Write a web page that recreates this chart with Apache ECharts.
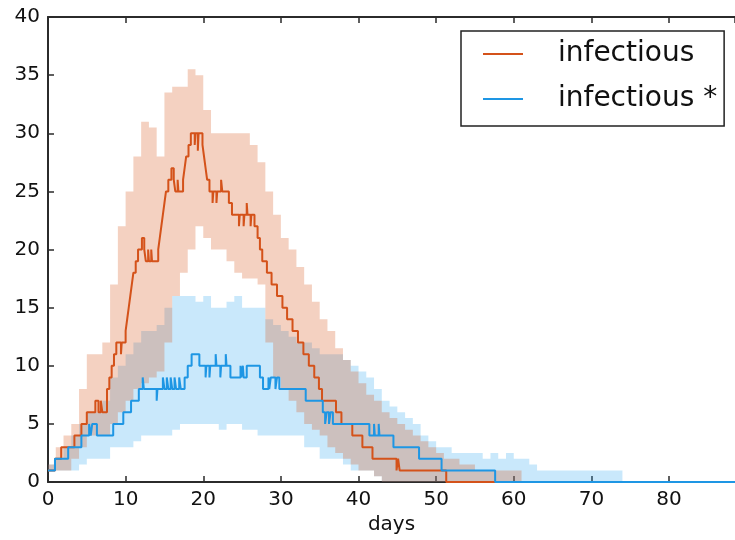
<!DOCTYPE html>
<html><head><meta charset="utf-8">
<script src="https://cdn.jsdelivr.net/npm/echarts@6/dist/echarts.min.js"></script>
<style>html,body{margin:0;padding:0;background:#fff}#c{width:735px;height:540px}</style>
</head><body><div id="c"></div>
<script>
// ---- data ----
const seriesNames = ['infectious', 'infectious *'];
const xTickValues = [0, 10, 20, 30, 40, 50, 60, 70, 80];
const yTickValues = [0, 5, 10, 15, 20, 25, 30, 35, 40];

// median step curves: [day, value] (value holds from that day on)
const redMedian = [[0,1],[0.9,2],[1.7,3],[3.4,4],[4.3,5],[5.0,6],[6.1,7],[6.5,6],[6.8,7],[7.0,6],[7.6,8],[7.9,9],[8.2,10],[8.5,11],[8.8,12],[9.4,11],[9.5,12],[10.0,13],[10.2,14],[10.4,15],[10.6,16],[10.8,17],[11.0,18],[11.3,19],[11.6,20],[12.1,21],[12.4,20],[12.6,19],[12.9,20],[13.0,19],[13.3,20],[13.4,19],[14.2,20],[14.4,21],[14.6,22],[14.8,23],[15.0,24],[15.2,25],[15.5,26],[15.9,27],[16.2,26],[16.4,25],[16.7,26],[16.8,25],[17.4,26],[17.6,27],[17.8,28],[18.1,29],[18.4,30],[18.9,29],[19.0,30],[19.3,28.5],[19.4,30],[19.9,29],[20.1,28],[20.3,27],[20.5,26],[20.8,25],[21.2,24],[21.3,25],[21.7,24],[21.8,25],[22.3,26],[22.45,25],[23.3,24],[23.7,23],[24.6,22],[24.7,23],[25.2,22],[25.3,23],[25.6,24],[25.7,23],[26.1,22],[26.2,23],[26.6,22],[27.0,21],[27.3,20],[27.6,19],[28.2,18],[28.8,17],[29.5,16],[30.2,15],[30.8,14],[31.5,13],[32.2,12],[32.9,11],[33.6,10],[34.3,9],[34.9,8],[35.3,7],[37.1,6],[37.8,5],[39.2,4],[40.5,3],[41.8,2],[44.9,1],[45.1,2],[45.3,1],[51.3,0],[88.5,0]];
const blueMedian = [[0,1],[0.9,2],[2.6,3],[4.3,4],[5.3,5],[5.5,4],[5.7,5],[6.3,4],[8.4,5],[9.7,6],[10.7,7],[11.7,8],[12.2,9],[12.35,8],[14.0,7],[14.1,8],[14.8,9],[15.0,8],[15.3,9],[15.5,8],[15.8,9],[16.0,8],[16.3,9],[16.5,8],[16.9,9],[17.1,8],[17.6,9],[18.0,10],[18.5,11],[19.5,10],[20.3,9],[20.4,10],[20.8,9],[20.9,10],[21.6,11],[21.7,10],[22.2,9],[22.3,10],[22.9,11],[23.0,10],[23.5,9],[24.8,10],[24.9,9],[25.1,10],[25.2,9],[25.6,10],[27.3,9],[27.7,8],[28.4,9],[28.5,8],[28.7,9],[29.3,8],[29.5,9],[29.8,8],[33.2,7],[35.4,6],[35.7,5],[35.9,6],[36.2,5],[36.4,6],[36.7,5],[41.4,4],[42.0,5],[42.1,4],[42.6,5],[42.7,4],[44.5,3],[47.8,2],[50.7,1],[57.6,0],[88.5,0]];

// percentile bands, one value per day (day = index)
const redUpper = [1.5,3,4,5,8,11,11,12,17,22,25,28,31,30.5,28,33.5,34,34,35.5,35,32,30,30,30,30,30,29,27.5,25,23,21,20,18.5,17,15.5,14,13,11.5,10.5,9.5,8.5,7.5,7,6,5.5,5,4.5,4,3.5,3,2.5,2,2,1.5,1.5,1,1,1,1,1,1,0];
const redLower = [1,1,1,2,3,4,4,4,5,6,7,8,8.5,9,9.5,12,16,18,20,22,21,20,20,19,18,17.5,17.5,17,12,9,8,7,6,5,4.5,4,3,2.5,2,1.5,1,1,0.5,0,0,0,0,0,0,0,0,0,0,0,0,0,0,0,0,0,0,0];
const blueUpper = [1.5,2,3,4,5,6,6,7,9,10,11,12,13,13,13.5,15,16,16,16,15.5,16,15,15,15.5,16,15,15,15,14,13.5,13,12.5,12,12,11.5,11,11,11,10.5,10,9.5,9,8,7,6.5,6,5.5,5,4,3.5,3,3,2.5,2.5,2.5,2.5,2,2.5,2,2.5,2,2,1.5,1,1,1,1,1,1,1,1,1,1,1,0];
const blueLower = [1,1,1,1,1.5,2,2,2,3,3,3,3.5,4,4,4,4,4.5,5,5,5,5,5,4.5,5,5,4.5,4.5,4,4,4,4,4,4,3,3,2,2,2,1.5,1,1,1,0.5,0,0,0,0,0,0,0,0,0,0,0,0,0,0,0,0,0,0,0,0,0,0,0,0,0,0,0,0,0,0,0,0];

// ---- style ----
const RED = '#d4521a', BLUE = '#1e96e4';
const RED_BAND = 'rgba(214,85,25,0.27)', BLUE_BAND = 'rgba(30,160,240,0.24)';
const FONT = 'DejaVu Sans';
const AXIS = '#2b2b2b';

// step-shaped band polygon (value for day i holds until day i+1), mapped by the axes
function band(name, lower, upper, color) {
  return {
    name: name, type: 'custom', silent: true, clip: true,
    data: [[0, 0]],
    renderItem: function (params, api) {
      if (params.dataIndex !== 0) return;
      const pts = [];
      for (let i = 0; i < upper.length; i++) {
        pts.push(api.coord([i, upper[i]]));
        pts.push(api.coord([i + 1, upper[i]]));
      }
      for (let i = lower.length - 1; i >= 0; i--) {
        pts.push(api.coord([i + 1, lower[i]]));
        pts.push(api.coord([i, lower[i]]));
      }
      return { type: 'polygon', shape: { points: pts }, style: { fill: color, stroke: null } };
    }
  };
}

const xAxisCommon = {
  type: 'value', min: 0, max: 88.5, interval: 10,
  axisLine: { show: true, onZero: false, lineStyle: { color: AXIS, width: 2 } },
  axisTick: { show: true, inside: true, length: 6, lineStyle: { color: AXIS, width: 1.5 } },
  splitLine: { show: false }
};

const chart = echarts.init(document.getElementById('c'), null, { renderer: 'canvas' });
chart.setOption({
  animation: false,
  backgroundColor: '#fff',
  textStyle: { fontFamily: FONT },
  grid: { left: 48, top: 17, right: -11, bottom: 58 },
  legend: {
    data: [
      { name: seriesNames[0], icon: 'rect' },
      { name: seriesNames[1], icon: 'rect' }
    ],
    orient: 'vertical', left: 461, top: 31,
    itemWidth: 40, itemHeight: 2, itemGap: 11,
    padding: [6, 7, 10, 22],
    borderColor: '#222', borderWidth: 1.5, backgroundColor: '#fff',
    selectedMode: false,
    textStyle: { fontFamily: FONT, fontSize: 28, color: '#111', lineHeight: 34, padding: [0, 0, 0, 30] }
  },
  xAxis: [
    Object.assign({}, xAxisCommon, {
      position: 'bottom', name: 'days', nameLocation: 'middle', nameGap: 32,
      nameTextStyle: { fontFamily: FONT, fontSize: 20, color: '#111' },
      axisLabel: { show: true, fontFamily: FONT, fontSize: 20, color: '#111', margin: 8, showMaxLabel: false,
        formatter: v => xTickValues.includes(v) ? String(v) : '' }
    }),
    Object.assign({}, xAxisCommon, { position: 'top', axisLabel: { show: false } })
  ],
  yAxis: {
    type: 'value', min: 0, max: 40, interval: 5,
    axisLine: { show: true, lineStyle: { color: AXIS, width: 2 } },
    axisTick: { show: true, inside: true, length: 6, lineStyle: { color: AXIS, width: 1.5 } },
    splitLine: { show: false },
    axisLabel: { fontFamily: FONT, fontSize: 20, color: '#111', margin: 8,
      formatter: v => yTickValues.includes(v) ? String(v) : '' }
  },
  series: [
    band('blueBand', blueLower, blueUpper, BLUE_BAND),
    band('redBand', redLower, redUpper, RED_BAND),
    { name: seriesNames[0], type: 'line', step: 'end', data: redMedian, symbol: 'none',
      color: RED, lineStyle: { color: RED, width: 2 } },
    { name: seriesNames[1], type: 'line', step: 'end', data: blueMedian, symbol: 'none',
      color: BLUE, lineStyle: { color: BLUE, width: 2 } }
  ]
});
</script>
</body></html>
